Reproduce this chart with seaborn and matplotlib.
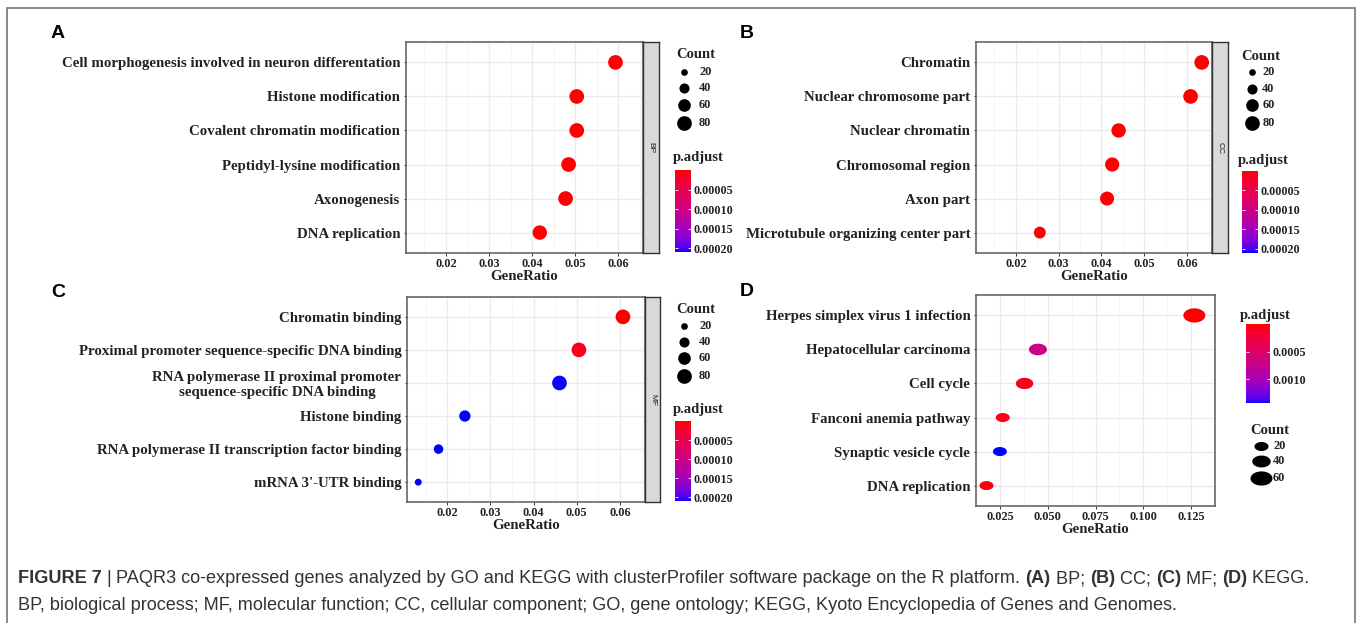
import numpy as np
import pandas as pd
import matplotlib
matplotlib.use("Agg")
import matplotlib.pyplot as plt
import matplotlib.colors as mcolors
from matplotlib.path import Path
import seaborn as sns

# ------------------------------------------------------------------ data
bp_terms = ["Cell morphogenesis involved in neuron differentation", "Histone modification",
            "Covalent chromatin modification", "Peptidyl-lysine modification",
            "Axonogenesis", "DNA replication"]
bp_ratio = [0.0594, 0.0504, 0.0504, 0.0485, 0.0478, 0.0418]
bp_count = [97, 88, 88, 85, 84, 77]
bp_padj = [1e-9, 2e-9, 2e-9, 3e-9, 4e-9, 5e-9]

cc_terms = ["Chromatin", "Nuclear chromosome part", "Nuclear chromatin",
            "Chromosomal region", "Axon part", "Microtubule organizing center part"]
cc_ratio = [0.0634, 0.0608, 0.0440, 0.0425, 0.0413, 0.0256]
cc_count = [99, 96, 77, 75, 73, 54]
cc_padj = [1e-10, 1e-9, 5e-8, 2e-7, 1e-6, 2e-6]

mf_terms = ["Chromatin binding", "Proximal promoter sequence-specific DNA binding",
            "RNA polymerase II proximal promoter\nsequence-specific DNA binding",
            "Histone binding", "RNA polymerase II transcription factor binding",
            "mRNA 3'-UTR binding"]
mf_ratio = [0.0607, 0.0505, 0.0460, 0.0241, 0.0180, 0.0133]
mf_count = [97, 90, 80, 49, 36, 21]
mf_padj = [1e-8, 1.2e-5, 0.000209, 0.000210, 0.000210, 0.000210]

kegg_terms = ["Herpes simplex virus 1 infection", "Hepatocellular carcinoma", "Cell cycle",
              "Fanconi anemia pathway", "Synaptic vesicle cycle", "DNA replication"]
kegg_ratio = [0.1267, 0.0449, 0.0379, 0.0265, 0.0250, 0.0180]
kegg_count = [76, 38, 35, 20, 20, 8]
kegg_padj = [2e-9, 0.00072, 0.00008, 0.00006, 0.00144, 0.00003]

go_xticks = [0.02, 0.03, 0.04, 0.05, 0.06]
go_xticklabels = ["0.02", "0.03", "0.04", "0.05", "0.06"]
kegg_xticks = [0.025, 0.050, 0.075, 0.100, 0.125]
kegg_xticklabels = ["0.025", "0.050", "0.075", "0.100", "0.125"]
go_count_breaks = [20, 40, 60, 80]
kegg_count_breaks = [20, 40, 60]
go_padj_breaks = [0.00005, 0.00010, 0.00015, 0.00020]
go_padj_labels = ["0.00005", "0.00010", "0.00015", "0.00020"]
kegg_padj_breaks = [0.0005, 0.0010]
kegg_padj_labels = ["0.0005", "0.0010"]

caption1 = [("FIGURE 7 ", True), ("| ", False),
            ("PAQR3 co-expressed genes analyzed by GO and KEGG with clusterProfiler software "
             "package on the R platform. ", False),
            ("(A)", True), (" BP; ", False), ("(B)", True), (" CC; ", False),
            ("(C)", True), (" MF; ", False), ("(D)", True), (" KEGG.", False)]
caption2 = [("BP, biological process; MF, molecular function; CC, cellular component; GO, gene "
             "ontology; KEGG, Kyoto Encyclopedia of Genes and Genomes.", False)]

# ------------------------------------------------------------------ style
W, H = 1358, 623
plt.rcParams["font.family"] = ["Liberation Serif", "DejaVu Serif"]
plt.rcParams["font.weight"] = "bold"
plt.rcParams["axes.labelweight"] = "bold"
SANS = ["Liberation Sans", "DejaVu Sans"]
TXT = "#222222"

M_RGB2XYZ = np.array([[0.4124564, 0.3575761, 0.1804375],
                      [0.2126729, 0.7151522, 0.0721750],
                      [0.0193339, 0.1191920, 0.9503041]])
WHITE = np.array([0.95047, 1.0, 1.08883])


def srgb_to_lab(rgb):
    rgb = np.asarray(rgb, float)
    lin = np.where(rgb <= 0.04045, rgb / 12.92, ((rgb + 0.055) / 1.055) ** 2.4)
    xyz = M_RGB2XYZ @ lin
    t = xyz / WHITE
    f = np.where(t > (6 / 29) ** 3, np.cbrt(t), t / (3 * (6 / 29) ** 2) + 4 / 29)
    return np.array([116 * f[1] - 16, 500 * (f[0] - f[1]), 200 * (f[1] - f[2])])


def lab_to_srgb(lab):
    L, a, b = lab
    fy = (L + 16) / 116
    f = np.array([fy + a / 500, fy, fy - b / 200])
    t = np.where(f > 6 / 29, f ** 3, 3 * (6 / 29) ** 2 * (f - 4 / 29))
    lin = np.linalg.solve(M_RGB2XYZ, t * WHITE)
    lin = np.clip(lin, 0, 1)
    return np.clip(np.where(lin <= 0.0031308, 12.92 * lin, 1.055 * lin ** (1 / 2.4) - 0.055), 0, 1)


lab_lo, lab_hi = srgb_to_lab([1, 0, 0]), srgb_to_lab([0, 0, 1])
cmap = mcolors.ListedColormap([lab_to_srgb(lab_lo + t * (lab_hi - lab_lo))
                               for t in np.linspace(0, 1, 256)])

go_norm = mcolors.Normalize(min(bp_padj + cc_padj + mf_padj), max(bp_padj + cc_padj + mf_padj))
kegg_norm = mcolors.Normalize(min(kegg_padj), max(kegg_padj))

GO_SIZES, GO_SNORM = (23.3, 112.0), (20, 80)
KEGG_SIZES, KEGG_SNORM = (101.6, 250.9), (20, 60)

th = np.linspace(0, 2 * np.pi, 72)
ELLIPSE = Path(np.column_stack([np.cos(th), np.sin(th) / 1.55]), closed=True)

fig = plt.figure(figsize=(W / 100, H / 100), dpi=100)
fig.patch.set_facecolor("white")

ov = fig.add_axes([0, 0, 1, 1])
ov.set_xlim(0, W)
ov.set_ylim(H, 0)
ov.set_axis_off()


def px_axes(x0, y0, x1, y1):
    return fig.add_axes([x0 / W, 1 - y1 / H, (x1 - x0) / W, (y1 - y0) / H])


def area(c, rng, snorm):
    lo, hi = rng
    return lo + mcolors.Normalize(*snorm)(c) * (hi - lo)


def dot_panel(box, terms, ratio, count, padj, norm, srng, snorm, xlim, xt, xtl, marker, strip=None):
    ax = px_axes(*box)
    df = pd.DataFrame({"Description": terms, "GeneRatio": ratio, "Count": count, "p.adjust": padj})
    sns.scatterplot(data=df, x="GeneRatio", y="Description", hue="p.adjust", size="Count",
                    palette=cmap, hue_norm=norm, sizes=srng, size_norm=snorm, marker=marker,
                    linewidth=0, edgecolor="none", legend=False, ax=ax, zorder=3)
    n = len(terms)
    ax.set_ylim(n - 0.4, -0.6)
    ax.set_xlim(*xlim)
    ax.set_yticks(range(n))
    ax.set_yticklabels(terms, fontsize=10.7, color=TXT, linespacing=1.15, multialignment="center")
    ax.set_xticks(xt)
    ax.set_xticklabels(xtl, fontsize=8.8, color=TXT)
    step = xt[1] - xt[0]
    minors = [v - step / 2 for v in xt] + [xt[-1] + step / 2]
    ax.set_xticks(minors, minor=True)
    ax.tick_params(axis="x", which="minor", length=0)
    ax.tick_params(axis="x", which="major", length=1.8, width=0.7, color="#333333", pad=1.5)
    ax.tick_params(axis="y", which="major", length=1.8, width=0.7, color="#333333", pad=2.3)
    ax.grid(which="major", color="#EBEBEB", lw=1.0, zorder=0)
    ax.grid(which="minor", axis="x", color="#F5F5F5", lw=0.6, zorder=0)
    ax.set_axisbelow(True)
    ax.set_ylabel("")
    ax.set_xlabel("GeneRatio", fontsize=10.7, color=TXT, fontweight="bold", labelpad=0.4)
    for s in ax.spines.values():
        s.set_color("#5a5a5a")
        s.set_linewidth(1.1)
    if strip is not None:
        sx0, sx1, lab = strip
        sa = px_axes(sx0, box[1], sx1, box[3])
        sa.set_facecolor("#D9D9D9")
        sa.set_xticks([])
        sa.set_yticks([])
        for s in sa.spines.values():
            s.set_color("#333333")
            s.set_linewidth(1.0)
        sa.text(0.5, 0.5, lab, rotation=-90, ha="center", va="center", fontsize=6,
                family=SANS, fontweight="normal", color="#1a1a1a", transform=sa.transAxes)
    return ax


dot_panel((406, 42, 643, 253), bp_terms, bp_ratio, bp_count, bp_padj, go_norm,
          GO_SIZES, GO_SNORM, (0.0107, 0.0658), go_xticks, go_xticklabels, "o", (643, 659, "BP"))
dot_panel((976, 42, 1212, 253), cc_terms, cc_ratio, cc_count, cc_padj, go_norm,
          GO_SIZES, GO_SNORM, (0.0107, 0.0658), go_xticks, go_xticklabels, "o", (1212, 1228, "CC"))
dot_panel((407, 297, 645, 502), mf_terms, mf_ratio, mf_count, mf_padj, go_norm,
          GO_SIZES, GO_SNORM, (0.0107, 0.0658), go_xticks, go_xticklabels, "o", (645, 660, "MF"))
dot_panel((976, 295, 1215, 506), kegg_terms, kegg_ratio, kegg_count, kegg_padj, kegg_norm,
          KEGG_SIZES, KEGG_SNORM, (0.0130, 0.1326), kegg_xticks, kegg_xticklabels, ELLIPSE)


# ------------------------------------------------------------------ legends
def count_legend(tx, ty, dx, lx, ys, breaks, srng, snorm, marker):
    ov.text(tx, ty, "Count", fontsize=10.5, color=TXT, ha="left", va="center")
    for y, b in zip(ys, breaks):
        ov.scatter([dx], [y], s=area(b, srng, snorm), c="black", marker=marker, linewidths=0)
        ov.text(lx, y, str(b), fontsize=8.9, color=TXT, ha="left", va="center")


def padj_legend(tx, ty, box, norm, breaks, labels):
    ov.text(tx, ty, "p.adjust", fontsize=10.5, color=TXT, ha="left", va="center")
    cax = px_axes(*box)
    cb = fig.colorbar(plt.cm.ScalarMappable(norm=norm, cmap=cmap), cax=cax)
    cb.outline.set_visible(False)
    cax.invert_yaxis()
    cb.set_ticks(breaks)
    cax.set_yticklabels(labels, fontsize=8.7, color=TXT)
    cax.tick_params(axis="y", direction="in", length=2.5, width=0.6, color="white",
                    left=True, right=True, pad=1.5)


count_legend(676, 55, 684.3, 699, [71.7, 88.3, 105, 123.3], go_count_breaks, GO_SIZES, GO_SNORM, "o")
padj_legend(673, 158, (675, 170, 691, 252), go_norm, go_padj_breaks, go_padj_labels)

count_legend(1241, 56.7, 1251.7, 1262.3, [71.7, 88.7, 105.3, 123.3], go_count_breaks, GO_SIZES, GO_SNORM, "o")
padj_legend(1238, 160.7, (1242, 171, 1258, 252.7), go_norm, go_padj_breaks, go_padj_labels)

count_legend(676, 309.6, 684.3, 699, [325.8, 341.9, 358.1, 375.9], go_count_breaks, GO_SIZES, GO_SNORM, "o")
padj_legend(673, 409.5, (675, 421, 691, 501), go_norm, go_padj_breaks, go_padj_labels)

padj_legend(1240, 315, (1246, 324.3, 1270, 403.3), kegg_norm, kegg_padj_breaks, kegg_padj_labels)
count_legend(1250, 431, 1260.5, 1273, [445.7, 460.7, 477.7], kegg_count_breaks, KEGG_SIZES, KEGG_SNORM, ELLIPSE)

# ------------------------------------------------------------------ panel letters & frame
for lab, x, y in [("A", 58, 34), ("B", 747, 33), ("C", 58, 292.5), ("D", 747, 292)]:
    ov.text(x, y, lab, fontsize=14, family=SANS, fontweight="bold", color="black",
            ha="center", va="center")

ov.plot([7, 7, 1355, 1355], [H + 5, 8, 8, H + 5], color="#6a6a6a", lw=1.1, solid_joinstyle="miter")

# ------------------------------------------------------------------ caption
renderer = fig.canvas.get_renderer()
CAP = "#333333"


def seg_width(txt, bold, size):
    w = "bold" if bold else "normal"
    a = fig.text(0, 0, "|" + txt + "|", fontsize=size, family=SANS, fontweight=w)
    b = fig.text(0, 0, "||", fontsize=size, family=SANS, fontweight=w)
    res = a.get_window_extent(renderer).width - b.get_window_extent(renderer).width
    a.remove()
    b.remove()
    return res


def caption_line(segs, x0, ybase, size=13.1):
    x = x0
    for txt, bold in segs:
        ov.text(x, ybase, txt, fontsize=size, family=SANS,
                fontweight="bold" if bold else "normal", color=CAP, ha="left", va="baseline")
        x += seg_width(txt, bold, size)


caption_line(caption1, 18, 583)
caption_line(caption2, 18, 610)

fig.savefig("out.png", dpi=100, facecolor="white")
